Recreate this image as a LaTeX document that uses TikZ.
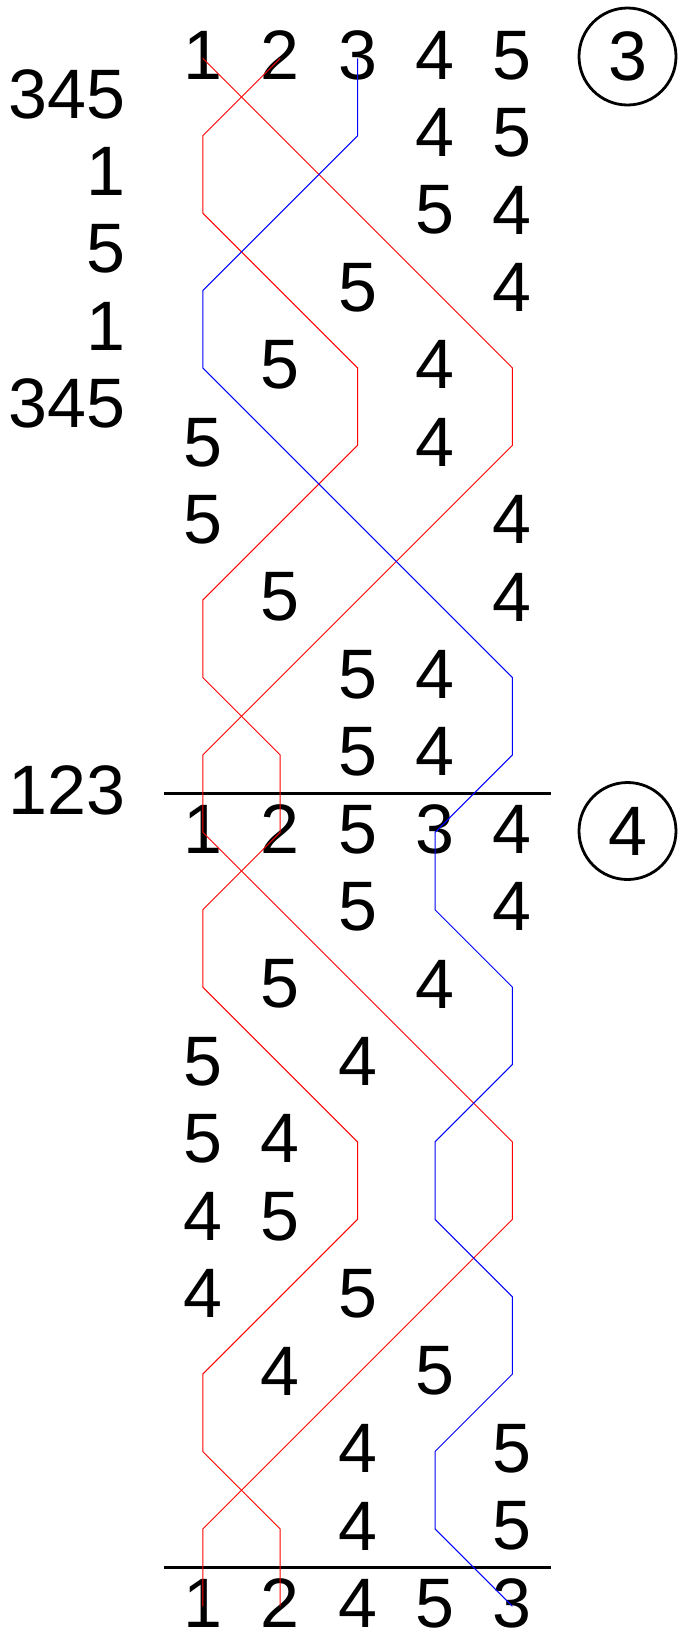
\documentclass[tikz,border=0pt]{standalone}
\usepackage{fontspec}
\newfontfamily\digfont{Liberation Sans}
\newcommand{\bigdig}{\digfont\fontsize{70}{84}\selectfont}
\begin{document}
\begin{tikzpicture}[x=1pt,y=-1pt,
  dig/.style={font=\bigdig,inner sep=0pt,anchor=center,yshift=3pt},
  lab/.style={font=\bigdig,inner sep=0pt,anchor=east,yshift=3pt},
  ring/.style={circle,draw,line width=2.8pt,minimum size=97pt,inner sep=0pt,font=\bigdig},
  rule/.style={line width=3pt},
  redline/.style={red,line width=1pt,line join=miter},
  blueline/.style={blue,line width=1pt,line join=miter}]
\useasboundingbox (0,0) rectangle (678,1634);
\foreach \c in {1,...,5}{
  \foreach \r in {1,...,21}{
    \coordinate (g-\c-\r) at ({202.8+77.4*(\c-1)},{58.3+77.4*(\r-1)});
  }
}
% digits, section 1
\node[dig] (a1) at (g-1-1) {1};
\node[dig] (a2) at (g-2-1) {2};
\node[dig] (a3) at (g-3-1) {3};
\node[dig] (a4) at (g-4-1) {4};
\node[dig] (a5) at (g-5-1) {5};
\node[dig] (b4) at (g-4-2) {4};
\node[dig] (b5) at (g-5-2) {5};
\node[dig] (c5) at (g-4-3) {5};
\node[dig] (c4) at (g-5-3) {4};
\node[dig] (d5) at (g-3-4) {5};
\node[dig] (d4) at (g-5-4) {4};
\node[dig] (e5) at (g-2-5) {5};
\node[dig] (e4) at (g-4-5) {4};
\node[dig] (f5) at (g-1-6) {5};
\node[dig] (f4) at (g-4-6) {4};
\node[dig] (h5) at (g-1-7) {5};
\node[dig] (h4) at (g-5-7) {4};
\node[dig] (i5) at (g-2-8) {5};
\node[dig] (i4) at (g-5-8) {4};
\node[dig] (j5) at (g-3-9) {5};
\node[dig] (j4) at (g-4-9) {4};
\node[dig] (k5) at (g-3-10) {5};
\node[dig] (k4) at (g-4-10) {4};
% section 2
\node[dig] (l1) at (g-1-11) {1};
\node[dig] (l2) at (g-2-11) {2};
\node[dig] (l3) at (g-3-11) {5};
\node[dig] (l4) at (g-4-11) {3};
\node[dig] (l5) at (g-5-11) {4};
\node[dig] (m5) at (g-3-12) {5};
\node[dig] (m4) at (g-5-12) {4};
\node[dig] (n5) at (g-2-13) {5};
\node[dig] (n4) at (g-4-13) {4};
\node[dig] (o5) at (g-1-14) {5};
\node[dig] (o4) at (g-3-14) {4};
\node[dig] (p5) at (g-1-15) {5};
\node[dig] (p4) at (g-2-15) {4};
\node[dig] (q4) at (g-1-16) {4};
\node[dig] (q5) at (g-2-16) {5};
\node[dig] (s4) at (g-1-17) {4};
\node[dig] (s5) at (g-3-17) {5};
\node[dig] (t4) at (g-2-18) {4};
\node[dig] (t5) at (g-4-18) {5};
\node[dig] (u4) at (g-3-19) {4};
\node[dig] (u5) at (g-5-19) {5};
\node[dig] (v4) at (g-3-20) {4};
\node[dig] (v5) at (g-5-20) {5};
% section 3
\node[dig] (w1) at (g-1-21) {1};
\node[dig] (w2) at (g-2-21) {2};
\node[dig] (w3) at (g-3-21) {4};
\node[dig] (w4) at (g-4-21) {5};
\node[dig] (w5) at (g-5-21) {3};
% left labels
\node[lab] (L1) at (125.5,{58.3+77.4*0.5}) {345};
\node[lab] (L2) at (125.5,{58.3+77.4*1.5}) {1};
\node[lab] (L3) at (125.5,{58.3+77.4*2.5}) {5};
\node[lab] (L4) at (125.5,{58.3+77.4*3.5}) {1};
\node[lab] (L5) at (125.5,{58.3+77.4*4.5}) {345};
\node[lab] (L6) at (125.5,{58.3+77.4*9.5}) {123};
% circled labels
\node[ring] (R3) at (627.5,56.5) {3};
\node[ring] (R4) at (627.5,831) {4};
% rules
\draw[rule] (164,{58.3+77.4*9.5}) -- (551,{58.3+77.4*9.5});
\draw[rule] (164,{58.3+77.4*19.5}) -- (551,{58.3+77.4*19.5});
% strands
\draw[redline] (g-1-1) -- (g-5-5) -- (g-5-6) -- (g-1-10) -- (g-1-11) -- (g-5-15) -- (g-5-16) -- (g-1-20) -- (g-1-21);
\draw[redline] (g-2-1) -- (g-1-2) -- (g-1-3) -- (g-3-5) -- (g-3-6) -- (g-1-8) -- (g-1-9) -- (g-2-10) -- (g-2-11) -- (g-1-12) -- (g-1-13) -- (g-3-15) -- (g-3-16) -- (g-1-18) -- (g-1-19) -- (g-2-20) -- (g-2-21);
\draw[blueline] (g-3-1) -- (g-3-2) -- (g-1-4) -- (g-1-5) -- (g-5-9) -- (g-5-10) -- (g-4-11) -- (g-4-12) -- (g-5-13) -- (g-5-14) -- (g-4-15) -- (g-4-16) -- (g-5-17) -- (g-5-18) -- (g-4-19) -- (g-4-20) -- (g-5-21);
\end{tikzpicture}
\end{document}
